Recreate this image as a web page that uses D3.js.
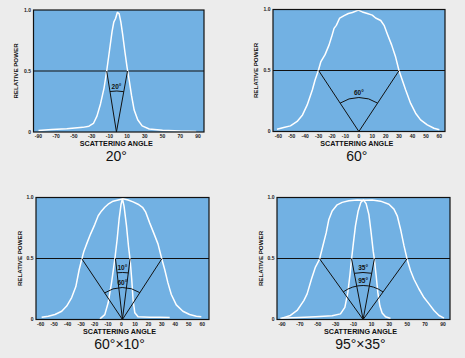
<!DOCTYPE html>
<html><head><meta charset="utf-8">
<script src="https://cdn.jsdelivr.net/npm/d3@7"></script>
<style>
html,body{margin:0;padding:0;background:#ececec;}
svg{display:block;}
text{font-family:"Liberation Sans", Arial, Helvetica, sans-serif;}
</style></head><body>
<svg id="chart" width="465" height="358"></svg>
<script>
// ---------- data ----------
const ticksWide = [-90, -70, -50, -30, -10, 10, 30, 50, 70, 90];
const ticksNarrow = [-60, -50, -40, -30, -20, -10, 0, 10, 20, 30, 40, 50, 60];
const yTickValues = [0, 0.5, 1.0];
const yTickLabels = ["0", "0.5", "1.0"];
const titles = ["20°", "60°", "60°×10°", "95°×35°"];

// 20° diffuser
const angle20 = [-90, -75, -58, -40, -33, -28, -24, -20, -16, -13, -10, -7, -5, -3, -1, 1, 3, 5, 7.5, 10, 12.5, 15, 18, 22, 27, 35, 50, 70, 88];
const power20 = [0.012, 0.02, 0.027, 0.038, 0.048, 0.07, 0.13, 0.23, 0.36, 0.5, 0.66, 0.82, 0.9, 0.93, 0.98, 0.97, 0.9, 0.8, 0.66, 0.53, 0.42, 0.3, 0.18, 0.1, 0.05, 0.025, 0.015, 0.008, 0.005];

// 60° diffuser
const angle60 = [-61, -56, -51, -46, -42, -38.5, -34.7, -32.7, -30.2, -28.4, -25.2, -22.2, -20.2, -18.5, -16.8, -14.3, -11, -7.8, -4.8, -0.4, 2.6, 6.3, 10, 12.5, 16.3, 18.8, 21.2, 24.4, 27.4, 29.9, 32.4, 34.9, 38.6, 42.3, 46, 51, 56, 60];
const power60 = [0.019, 0.033, 0.046, 0.082, 0.136, 0.218, 0.34, 0.42, 0.5, 0.57, 0.63, 0.71, 0.78, 0.845, 0.87, 0.93, 0.95, 0.967, 0.975, 0.995, 0.98, 0.967, 0.954, 0.93, 0.91, 0.87, 0.8, 0.71, 0.61, 0.5, 0.42, 0.34, 0.23, 0.15, 0.095, 0.054, 0.027, 0.014];

// 60°×10° diffuser: wide axis
const angle60x10Wide = [-59.3, -54.4, -49.4, -44.4, -40.7, -37, -33.9, -31.4, -29.6, -27.9, -25.5, -23, -19.8, -17.3, -14.8, -12.4, -9.9, -6.2, -2.5, 1.2, 4.9, 8.6, 12.3, 15.6, 18, 21, 23.9, 27.1, 30.1, 32.1, 34.5, 37, 40.7, 45.6, 50.6, 55.6, 59.3];
const power60x10Wide = [0.019, 0.027, 0.041, 0.068, 0.11, 0.18, 0.27, 0.41, 0.49, 0.56, 0.63, 0.7, 0.78, 0.85, 0.89, 0.92, 0.945, 0.97, 0.98, 0.99, 0.98, 0.964, 0.945, 0.92, 0.88, 0.79, 0.71, 0.62, 0.49, 0.41, 0.3, 0.205, 0.12, 0.068, 0.041, 0.027, 0.022];
// 60°×10° diffuser: narrow axis
const angle60x10Narrow = [-16, -12.4, -9.9, -7.4, -5, -3.2, -1.8, -0.3, 0.7, 1.9, 3.7, 5.2, 6.4, 7.6, 8.6, 9.9, 12.3, 21, 28.4, 35.8];
const power60x10Narrow = [0.005, 0.04, 0.137, 0.3, 0.49, 0.66, 0.82, 0.945, 0.99, 0.93, 0.77, 0.6, 0.49, 0.33, 0.16, 0.055, 0.022, 0.019, 0.019, 0.016];

// 95°×35° diffuser: wide axis
const angle95x35Wide = [-90, -80.6, -73.1, -69.4, -65.6, -61.9, -57.1, -52.6, -48.2, -44.4, -40.6, -37.6, -33.9, -28.3, -22.7, -15.2, -5.9, 1.6, 10.9, 20.2, 29.6, 35.2, 38.9, 42.6, 46.4, 50.1, 53.8, 57.6, 63.2, 68.8, 74.4, 80, 85.6, 91.2];
const power95x35Wide = [0.011, 0.033, 0.074, 0.114, 0.155, 0.21, 0.33, 0.43, 0.49, 0.6, 0.71, 0.82, 0.89, 0.94, 0.96, 0.973, 0.98, 0.978, 0.98, 0.97, 0.945, 0.905, 0.85, 0.74, 0.605, 0.49, 0.4, 0.33, 0.25, 0.18, 0.128, 0.074, 0.033, 0.011];
// 95°×35° diffuser: narrow axis
const angle95x35Narrow = [-91.8, -71.2, -52.6, -33.9, -24.6, -19.7, -16.4, -14.1, -12.3, -10.1, -7.8, -4.8, -1.8, 1.1, 4.1, 7.2, 9.7, 12, 13.4, 15.3, 17.2, 19.5, 22, 25.8, 31.4];
const power95x35Narrow = [0.011, 0.016, 0.022, 0.03, 0.046, 0.1, 0.22, 0.36, 0.49, 0.63, 0.77, 0.89, 0.96, 0.98, 0.95, 0.86, 0.71, 0.56, 0.49, 0.36, 0.22, 0.11, 0.054, 0.022, 0.008];

// half-power cones: [apex angle, left half-power angle, right half-power angle]
const cone20 = [-2, -13, 10.5];
const cone60 = [0, -30, 30];
const cone60x10Wide = [0.7, -29.6, 30.1];
const cone60x10Narrow = [0.7, -4.5, 6.4];
const cone95x35Wide = [0.7, -48.2, 50.1];
const cone95x35Narrow = [0.7, -12.3, 13.4];
const coneLabels = ["20°", "60°", "10°", "60°", "35°", "95°"];

// ---------- layout ----------
const panels = [
  {box: [33.5, 204, 10, 132], domain: [-95.6, 96.8], ticks: ticksWide, title: titles[0], yt: 18,
   curves: [[angle20, power20]],
   cones: [{c: cone20, r: 41, label: coneLabels[0]}]},
  {box: [273, 445, 9.5, 131.5], domain: [-64, 64.2], ticks: ticksNarrow, title: titles[1], yt: 17.5,
   curves: [[angle60, power60]],
   cones: [{c: cone60, r: 34, label: coneLabels[1]}]},
  {box: [36, 209, 197.5, 319.5], domain: [-63.5, 65], ticks: ticksNarrow, title: titles[2], yt: 16,
   curves: [[angle60x10Wide, power60x10Wide], [angle60x10Narrow, power60x10Narrow]],
   cones: [{c: cone60x10Narrow, r: 47, label: coneLabels[2]}, {c: cone60x10Wide, r: 32, label: coneLabels[3]}]},
  {box: [277, 450, 197.5, 319.5], domain: [-95.6, 97.9], ticks: ticksWide, title: titles[3], yt: 16,
   curves: [[angle95x35Wide, power95x35Wide], [angle95x35Narrow, power95x35Narrow]],
   cones: [{c: cone95x35Narrow, r: 47, label: coneLabels[4]}, {c: cone95x35Wide, r: 34, label: coneLabels[5]}]}
];

const svg = d3.select("#chart");
svg.append("rect").attr("width", 465).attr("height", 358).attr("fill", "#ececec");

panels.forEach((p, i) => {
  const [x0, x1, y0, y1] = p.box;
  const x = d3.scaleLinear().domain(p.domain).range([x0, x1]);
  const y = d3.scaleLinear().domain([0, 1]).range([y1, y0]);
  const g = svg.append("g");
  const clipId = "clip" + i;
  g.append("clipPath").attr("id", clipId).append("rect")
    .attr("x", x0).attr("y", y0 - 2).attr("width", x1 - x0).attr("height", y1 - y0 + 2);

  g.append("rect").attr("x", x0).attr("y", y0).attr("width", x1 - x0).attr("height", y1 - y0)
    .attr("fill", "#72b1e3");

  // half power line
  g.append("line").attr("x1", x0).attr("x2", x1).attr("y1", y(0.5)).attr("y2", y(0.5))
    .attr("stroke", "#111").attr("stroke-width", 1);

  // curves
  const line = d3.line().x(d => x(d[0])).y(d => y(d[1])).curve(d3.curveLinear);
  p.curves.forEach(([a, pw]) => {
    g.append("path").attr("d", line(a.map((v, k) => [v, pw[k]])))
      .attr("fill", "none").attr("stroke", "#fff").attr("stroke-width", 1.5)
      .attr("stroke-linejoin", "round").attr("clip-path", `url(#${clipId})`);
  });

  // cones
  p.cones.forEach(cn => {
    const [apex, left, right] = cn.c;
    const ax = x(apex), ay = y(0);
    const lx = x(left), rx = x(right), hy = y(0.5);
    g.append("path").attr("d", `M${lx},${hy}L${ax},${ay}L${rx},${hy}`)
      .attr("fill", "none").attr("stroke", "#111").attr("stroke-width", 1);
    const angL = Math.atan2(hy - ay, lx - ax), angR = Math.atan2(hy - ay, rx - ax);
    const r = cn.r;
    const p1 = [ax + r * Math.cos(angL), ay + r * Math.sin(angL)];
    const p2 = [ax + r * Math.cos(angR), ay + r * Math.sin(angR)];
    g.append("path").attr("d", `M${p1[0]},${p1[1]}A${r},${r} 0 0 1 ${p2[0]},${p2[1]}`)
      .attr("fill", "none").attr("stroke", "#111").attr("stroke-width", 1);
    g.append("text").attr("x", ax).attr("y", ay - r - 2.5).attr("text-anchor", "middle")
      .attr("font-size", 6.5).attr("font-weight", "bold").attr("fill", "#111").text(cn.label);
  });

  // border
  g.append("rect").attr("x", x0).attr("y", y0).attr("width", x1 - x0).attr("height", y1 - y0)
    .attr("fill", "none").attr("stroke", "#111").attr("stroke-width", 1.2);

  // x tick labels
  g.selectAll(".xt").data(p.ticks).enter().append("text")
    .attr("x", d => x(d)).attr("y", y1 + 6).attr("text-anchor", "middle")
    .attr("font-size", 5).attr("font-weight", "bold").attr("fill", "#222").text(d => d);
  // y tick labels
  g.selectAll(".yt").data(yTickValues).enter().append("text")
    .attr("x", x0 - 2.5).attr("y", d => y(d) + 1.8).attr("text-anchor", "end")
    .attr("font-size", 5).attr("font-weight", "bold").attr("fill", "#222").text((d, k) => yTickLabels[k]);

  // axis titles
  g.append("text").attr("x", x(0) - 2).attr("y", y1 + 14).attr("text-anchor", "middle")
    .attr("font-size", 7.2).attr("font-weight", "bold").attr("fill", "#111").text("SCATTERING ANGLE");
  const cy = (y0 + y1) / 2;
  g.append("text").attr("transform", `translate(${x0 - p.yt + 2},${cy}) rotate(-90)`)
    .attr("text-anchor", "middle").attr("font-size", 6.2).attr("font-weight", "bold")
    .attr("fill", "#111").text("RELATIVE POWER");

  // panel title
  g.append("text").attr("x", x(0) - 2).attr("y", y1 + 29).attr("text-anchor", "middle")
    .attr("font-size", 14).attr("fill", "#111").text(p.title);
});
</script>
</body></html>
